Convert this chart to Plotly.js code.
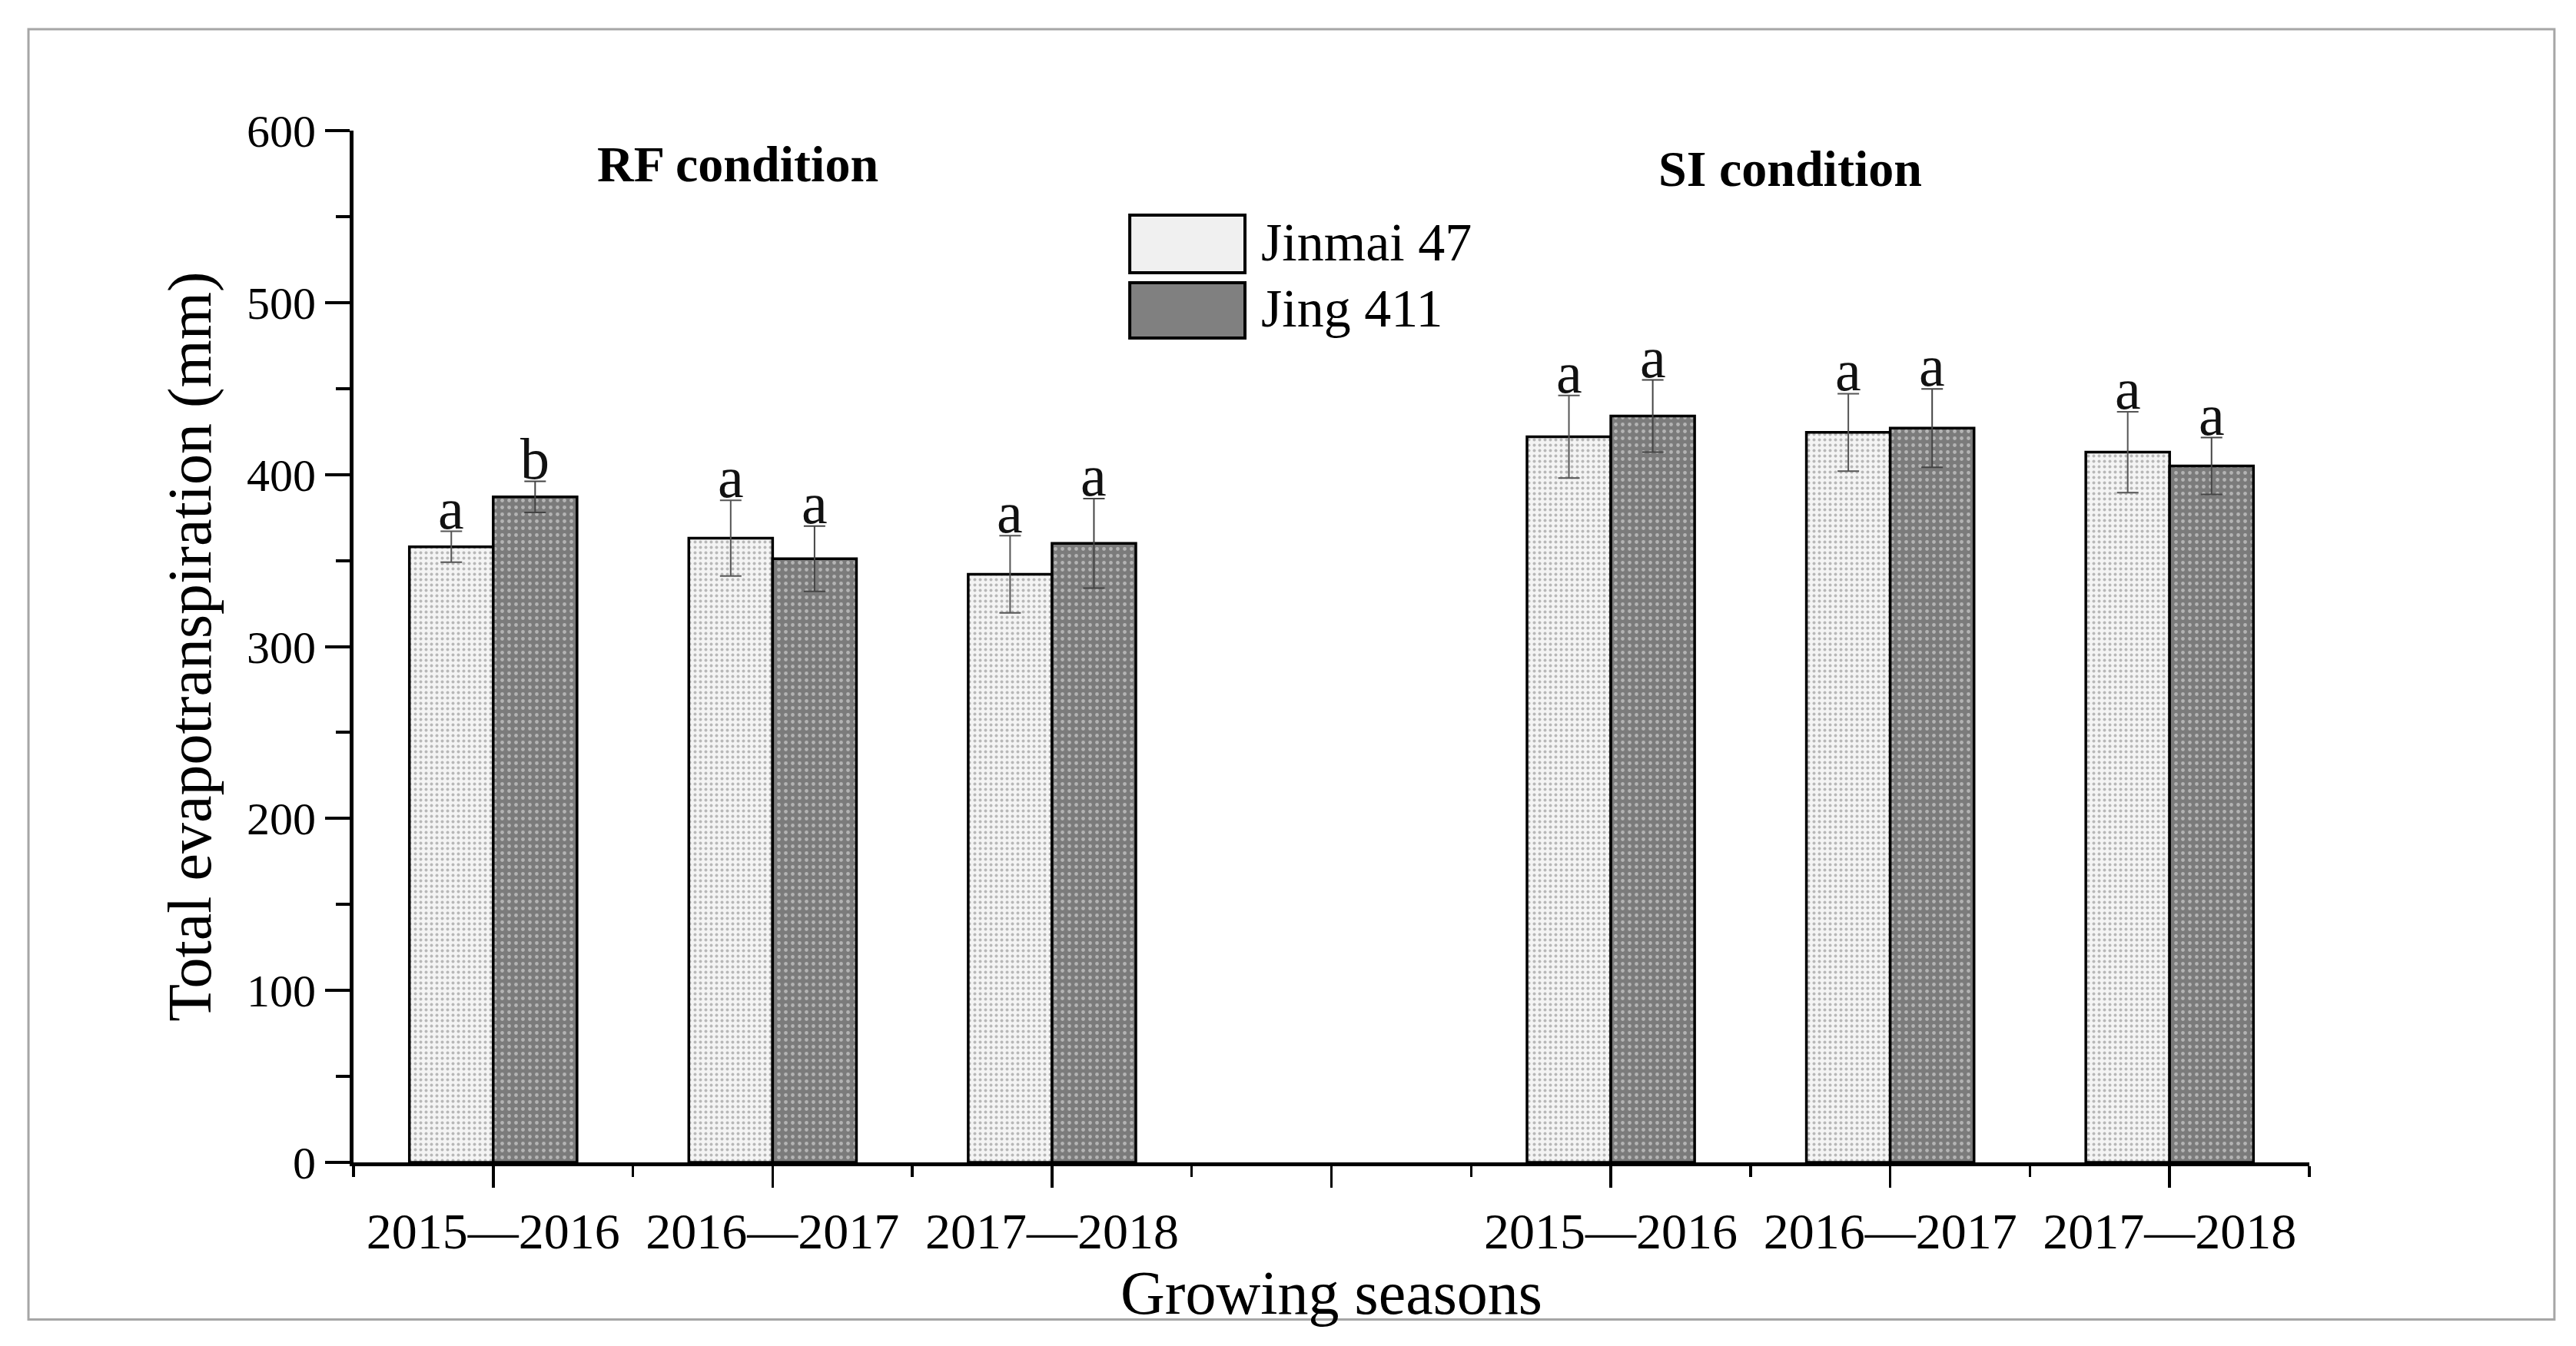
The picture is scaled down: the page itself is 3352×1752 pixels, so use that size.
<!DOCTYPE html>
<html>
<head>
<meta charset="utf-8">
<script src="https://cdn.plot.ly/plotly-3.0.1.min.js"></script>
<style>
  html, body { margin: 0; padding: 0; background: #ffffff; }
  #chart { width: 3352px; height: 1752px; }
</style>
</head>
<body>
<div id="chart"></div>
<script>
// ---- Data ----
const seasons = ['2015\u20142016', '2016\u20142017', '2017\u20142018'];
const conditions = ['RF condition', 'SI condition'];
const varieties = ['Jinmai 47', 'Jing 411'];

// Total evapotranspiration (mm)
const jinmaiRF = [358, 363, 342];
const jinmaiRFerr = [9, 22, 22.5];
const jingRF = [387, 351, 360];
const jingRFerr = [9, 19, 26];

const jinmaiSI = [422, 424.5, 413];
const jinmaiSIerr = [24, 22.5, 23.5];
const jingSI = [434, 427, 405];
const jingSIerr = [21, 22.8, 16.5];

// Significance letters
const jinmaiRFletters = ['a', 'a', 'a'];
const jingRFletters = ['b', 'a', 'a'];
const jinmaiSIletters = ['a', 'a', 'a'];
const jingSIletters = ['a', 'a', 'a'];

// ---- Build ----
const FONT = 'Liberation Serif, Times New Roman, serif';
const BW = 0.3;

// category positions: RF seasons at 1..3, gap at 4, SI seasons at 5..7
function positions(condIdx) { return seasons.map((s, i) => condIdx * 4 + i + 1); }
const xRF = positions(0), xSI = positions(1);

const xs = xRF.concat(xSI);
const jinmaiVals = jinmaiRF.concat(jinmaiSI);
const jinmaiErr = jinmaiRFerr.concat(jinmaiSIerr);
const jingVals = jingRF.concat(jingSI);
const jingErr = jingRFerr.concat(jingSIerr);
const jinmaiLetters = jinmaiRFletters.concat(jinmaiSIletters);
const jingLetters = jingRFletters.concat(jingSIletters);

const lightFill = '#f4f4f4';
const darkFill = '#7b7b7b';

const traces = [
  {
    type: 'bar', name: varieties[0], x: xs, y: jinmaiVals,
    width: BW, offset: -BW, showlegend: false,
    marker: {
      color: lightFill,
      line: { color: '#000000', width: 3.5 },
      pattern: { shape: '.', bgcolor: lightFill, fgcolor: '#b8b8b8', size: 7, solidity: 0.25 }
    },
    error_y: { type: 'data', array: jinmaiErr, visible: true, color: '#555555', thickness: 2, width: 14 }
  },
  {
    type: 'bar', name: varieties[1], x: xs, y: jingVals,
    width: BW, offset: 0, showlegend: false,
    marker: {
      color: darkFill,
      line: { color: '#000000', width: 3.5 },
      pattern: { shape: '.', bgcolor: darkFill, fgcolor: '#b4b4b4', size: 9, solidity: 0.22 }
    },
    error_y: { type: 'data', array: jingErr, visible: true, color: '#444444', thickness: 2, width: 14 }
  }
];

// x tick labels
const tickvals = [], ticktext = [];
for (let p = 1; p <= 7; p++) {
  tickvals.push(p);
  if (p <= 3) ticktext.push(seasons[p - 1]);
  else if (p === 4) ticktext.push('');
  else ticktext.push(seasons[p - 5]);
}
const minorX = [];
for (let p = 0.5; p <= 7.5; p += 1) minorX.push(p);

const annotations = [];
xs.forEach((x, i) => {
  annotations.push({
    x: x - BW / 2, y: jinmaiVals[i] + jinmaiErr[i], xref: 'x', yref: 'y',
    text: jinmaiLetters[i], showarrow: false, yanchor: 'bottom', yshift: -14,
    font: { family: FONT, size: 76, color: '#111111' }
  });
  annotations.push({
    x: x + BW / 2, y: jingVals[i] + jingErr[i], xref: 'x', yref: 'y',
    text: jingLetters[i], showarrow: false, yanchor: 'bottom', yshift: -14,
    font: { family: FONT, size: 76, color: '#111111' }
  });
});

// condition headings
annotations.push({
  x: 1.875, y: 580.5, xref: 'x', yref: 'y', text: '<b>' + conditions[0] + '</b>',
  showarrow: false, xanchor: 'center', yanchor: 'middle',
  font: { family: FONT, size: 66, color: '#000000' }
});
annotations.push({
  x: 5.643, y: 578, xref: 'x', yref: 'y', text: '<b>' + conditions[1] + '</b>',
  showarrow: false, xanchor: 'center', yanchor: 'middle',
  font: { family: FONT, size: 66, color: '#000000' }
});

// custom legend
annotations.push({
  x: 0.4633, y: 0.8913, xref: 'paper', yref: 'paper', text: varieties[0],
  showarrow: false, xanchor: 'left', yanchor: 'middle',
  font: { family: FONT, size: 70, color: '#000000' }
});
annotations.push({
  x: 0.4633, y: 0.8273, xref: 'paper', yref: 'paper', text: varieties[1],
  showarrow: false, xanchor: 'left', yanchor: 'middle',
  font: { family: FONT, size: 70, color: '#000000' }
});

const shapes = [
  { type: 'rect', xref: 'paper', yref: 'paper', x0: 0.3969, x1: 0.4558, y0: 0.8623, y1: 0.9181,
    fillcolor: '#f0f0f0', line: { color: '#000000', width: 4 } },
  { type: 'rect', xref: 'paper', yref: 'paper', x0: 0.3969, x1: 0.4558, y0: 0.7990, y1: 0.8526,
    fillcolor: '#808080', line: { color: '#000000', width: 4 } },
  // outer frame
  { type: 'rect', xref: 'paper', yref: 'paper', x0: -0.1662, x1: 1.1253, y0: -0.1522, y1: 1.0983,
    fillcolor: 'rgba(0,0,0,0)', line: { color: '#a6a6a6', width: 3 }, layer: 'below' }
];

const layout = {
  width: 3352, height: 1752,
  margin: { l: 460, r: 347, t: 170, b: 239 },
  paper_bgcolor: '#ffffff', plot_bgcolor: '#ffffff',
  font: { family: FONT, color: '#000000' },
  barmode: 'overlay',
  showlegend: false,
  xaxis: {
    range: [0.5, 7.5], tickmode: 'array', tickvals: tickvals, ticktext: ticktext,
    showgrid: false, zeroline: false, showline: true, linecolor: '#000000', linewidth: 5,
    ticks: 'outside', ticklen: 28, tickwidth: 3.5, tickcolor: '#000000',
    ticklabelstandoff: 0,
    minor: { tickvals: minorX, ticks: 'outside', ticklen: 14, tickwidth: 3.5, tickcolor: '#000000', showgrid: false },
    tickfont: { family: FONT, size: 66, color: '#000000' },
    title: { text: 'Growing seasons', font: { family: FONT, size: 80, color: '#000000' }, standoff: 4 },
    fixedrange: true
  },
  yaxis: {
    range: [0, 600], tickmode: 'linear', tick0: 0, dtick: 100,
    showgrid: false, zeroline: false, showline: true, linecolor: '#000000', linewidth: 5,
    ticks: 'outside', ticklen: 32, tickwidth: 4, tickcolor: '#000000',
    minor: { dtick: 50, ticks: 'outside', ticklen: 18, tickwidth: 4, tickcolor: '#000000', showgrid: false },
    tickfont: { family: FONT, size: 60, color: '#000000' },
    title: { text: 'Total evapotranspiration (mm)', font: { family: FONT, size: 80, color: '#000000' }, standoff: 22 },
    fixedrange: true
  },
  annotations: annotations,
  shapes: shapes
};

Plotly.newPlot('chart', traces, layout, { displayModeBar: false, staticPlot: true });
</script>
</body>
</html>
